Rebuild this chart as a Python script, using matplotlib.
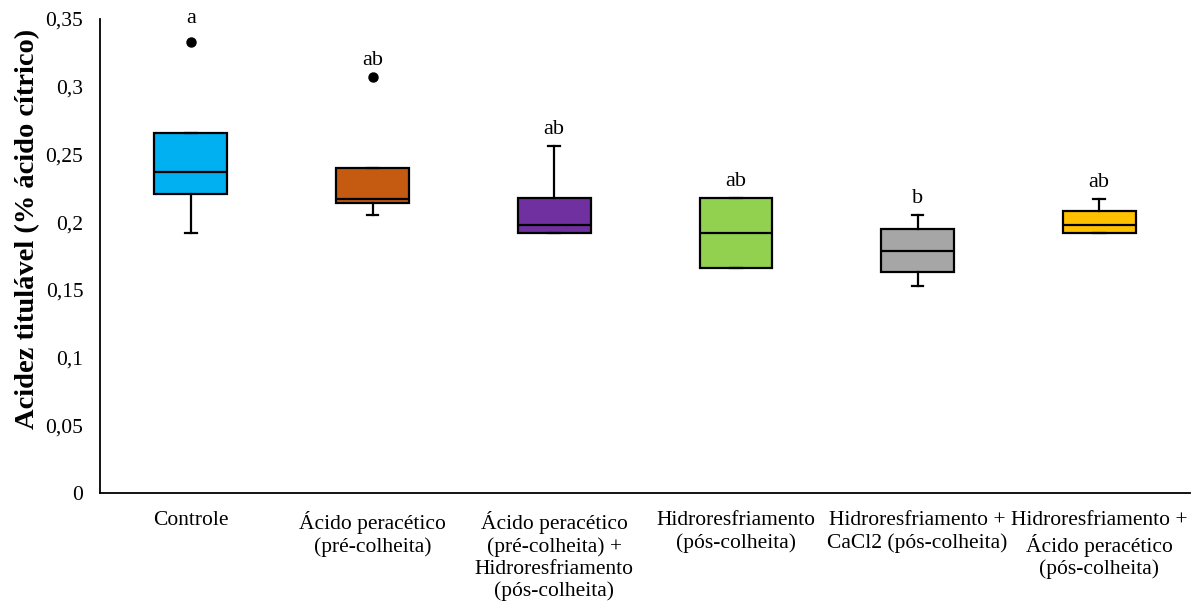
import matplotlib
matplotlib.use("Agg")
import matplotlib.pyplot as plt
from matplotlib.ticker import FuncFormatter

plt.rcParams['font.family'] = ['Liberation Serif', 'DejaVu Serif']

categories = [
    "Controle",
    "Ácido peracético\n(pré-colheita)",
    "Ácido peracético\n(pré-colheita) +\nHidroresfriamento\n(pós-colheita)",
    "Hidroresfriamento\n(pós-colheita)",
    "Hidroresfriamento +\nCaCl2 (pós-colheita)",
    "Hidroresfriamento +\nÁcido peracético\n(pós-colheita)",
]
whisker_low = [0.192, 0.205, 0.192, 0.166, 0.153, 0.192]
q1 = [0.221, 0.214, 0.192, 0.166, 0.163, 0.192]
median = [0.237, 0.217, 0.198, 0.192, 0.179, 0.198]
q3 = [0.266, 0.240, 0.218, 0.218, 0.195, 0.208]
whisker_high = [0.266, 0.240, 0.256, 0.218, 0.205, 0.217]
outliers = [[0.333], [0.307], [], [], [], []]
letters = ["a", "ab", "ab", "ab", "b", "ab"]
colors = ["#00B0F0", "#C55A11", "#7030A0", "#92D050", "#A6A6A6", "#FFC000"]

fig = plt.figure(figsize=(11.93, 6.05), dpi=100)
ax = fig.add_axes([100 / 1193, 1 - 493 / 605, 1090 / 1193, 474 / 605])

stats = []
for i in range(len(categories)):
    stats.append(dict(whislo=whisker_low[i], q1=q1[i], med=median[i],
                      q3=q3[i], whishi=whisker_high[i], fliers=outliers[i]))

positions = list(range(len(categories)))
art = ax.bxp(stats, positions=positions, widths=0.4, capwidths=0.066,
             patch_artist=True, showfliers=True,
             boxprops=dict(linewidth=1.6, edgecolor="black"),
             medianprops=dict(color="black", linewidth=1.6),
             whiskerprops=dict(color="black", linewidth=1.6),
             capprops=dict(color="black", linewidth=1.6),
             flierprops=dict(marker="o", markerfacecolor="black",
                             markeredgecolor="black", markersize=6.5))
for patch, c in zip(art["boxes"], colors):
    patch.set_facecolor(c)

# significance letters above the highest mark of each group
letter_gap = [10, 5, 5, 5, 5, 5]
for i, lab in enumerate(letters):
    top = max([whisker_high[i]] + outliers[i])
    ax.annotate(lab, (i, top), xytext=(0, letter_gap[i]),
                textcoords="offset points", ha="center", va="bottom",
                fontsize=16, annotation_clip=False)

ax.set_xlim(-0.5, len(categories) - 0.5)
ax.set_ylim(0, 0.35)
ax.set_yticks([0, 0.05, 0.1, 0.15, 0.2, 0.25, 0.3, 0.35])
ax.yaxis.set_major_formatter(FuncFormatter(
    lambda v, p: ("%g" % round(v, 2)).replace(".", ",")))
ax.set_xticks(positions)
ax.set_xticklabels(categories, linespacing=1.2)
ax.tick_params(axis="both", length=0, labelsize=15.5)
ax.tick_params(axis="y", pad=12)
ax.tick_params(axis="x", pad=13)

for s in ["top", "right"]:
    ax.spines[s].set_visible(False)
for s in ["left", "bottom"]:
    ax.spines[s].set_linewidth(1.3)

ax.set_ylabel("Acidez titulável (% ácido cítrico)", fontsize=20.5,
              fontweight="bold")
ax.yaxis.set_label_coords(-0.055, 0.557)

fig.savefig("out.png", dpi=100)
